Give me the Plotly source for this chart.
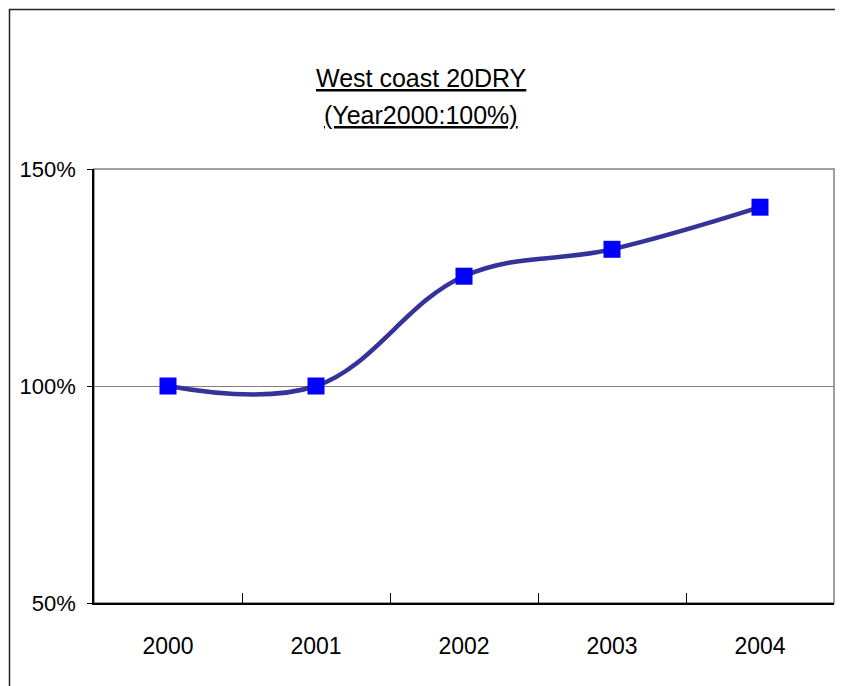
import plotly.graph_objects as go

years = ["2000", "2001", "2002", "2003", "2004"]
index_pct = [100, 100, 125.3, 131.5, 141.2]
y_ticks = [50, 100, 150]
title_line1 = "West coast 20DRY"
title_line2 = "(Year2000:100%)"

FONT = "Liberation Sans, Arial, sans-serif"

fig = go.Figure()
fig.add_trace(go.Scatter(
    x=years, y=index_pct, mode="lines+markers",
    line=dict(color="#333399", width=4.5, shape="spline", smoothing=1.1),
    marker=dict(symbol="square", size=17, color="#0000FF",
                line=dict(width=0)),
    showlegend=False, hoverinfo="x+y",
))

# page has an 8px body margin; figure sized so screen coords match reference
OFF = 8
W, H = 835, 678
L, T = 94 - OFF, 169 - OFF
R = W - (834 - OFF)
B = H - (603 - OFF)
pw, ph = W - L - R, H - T - B

def px_x(sx):
    return (sx - OFF - L) / pw

def px_y(sy):
    return (H - B - (sy - OFF)) / ph

shapes = [
    dict(type="rect", xref="paper", yref="paper", x0=0, y0=0, x1=1, y1=1,
         line=dict(color="#808080", width=1.5), layer="below"),
    dict(type="line", xref="paper", yref="paper",
         x0=px_x(9.5), x1=px_x(9.5), y0=px_y(9), y1=px_y(720),
         line=dict(color="#222222", width=1.5)),
    dict(type="line", xref="paper", yref="paper",
         x0=px_x(9), x1=px_x(880), y0=px_y(9.5), y1=px_y(9.5),
         line=dict(color="#222222", width=1.5)),
]

annotations = [
    dict(text=f"<u>{title_line1}</u>", xref="paper", yref="paper",
         x=px_x(421), y=px_y(78), xanchor="center", yanchor="middle",
         showarrow=False, font=dict(family=FONT, size=25, color="black")),
    dict(text=f"<u>{title_line2}</u>", xref="paper", yref="paper",
         x=px_x(421), y=px_y(115), xanchor="center", yanchor="middle",
         showarrow=False, font=dict(family=FONT, size=25, color="black")),
]

fig.update_layout(
    width=W, height=H,
    margin=dict(l=L, r=R, t=T, b=B, autoexpand=False),
    paper_bgcolor="white", plot_bgcolor="white",
    font=dict(family=FONT, size=23, color="black"),
    shapes=shapes,
    annotations=annotations,
    xaxis=dict(
        type="category", range=[-0.5, 4.5],
        showline=True, linecolor="black", linewidth=1.5,
        ticks="inside", ticklen=10, tickcolor="black", tickwidth=1,
        tickson="boundaries", showgrid=False,
        ticklabelstandoff=22,
        tickfont=dict(family=FONT, size=23),
    ),
    yaxis=dict(
        range=[50, 150], tickvals=y_ticks,
        ticktext=[f"{v}%" for v in y_ticks],
        showline=True, linecolor="black", linewidth=1.5,
        ticks="outside", ticklen=5, tickcolor="black",
        showgrid=True, gridcolor="#808080", gridwidth=1,
        zeroline=False,
        ticklabelstandoff=7,
        tickfont=dict(family=FONT, size=22),
    ),
)

fig.write_html("out.html")
